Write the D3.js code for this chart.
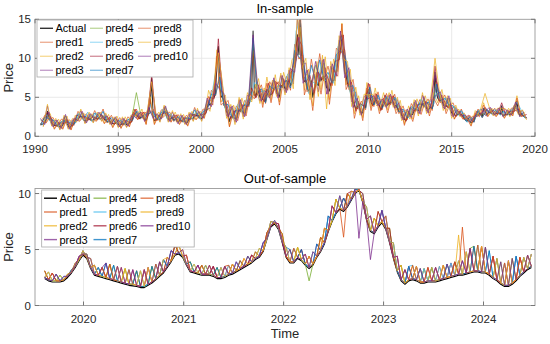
<!DOCTYPE html>
<html><head><meta charset="utf-8">
<script src="https://cdn.jsdelivr.net/npm/d3@7"></script>
<style>body{margin:0;background:#fff}text{font-family:Arial,"Liberation Sans",Helvetica,sans-serif;}</style>
</head><body><svg id="c" width="550" height="344"></svg>
<script>
// ---------- In-sample (monthly actual from May 1990; predictions quarterly, staggered) ----------
const inStart = new Date(1990, 4, 1);
const inActual = [
1.6,1.5,1.6,1.8,2.2,3.2,2.4,2.0,
1.7,1.5,1.4,1.4,1.4,1.3,1.2,1.3,1.4,1.8,2.1,1.7,
1.3,1.2,1.3,1.4,1.6,1.8,2.2,2.3,2.4,2.6,2.5,2.1,
2.0,2.0,2.5,2.2,2.2,2.0,2.1,2.4,2.4,2.2,2.4,2.2,
2.3,2.6,2.1,2.1,1.9,1.9,1.9,1.8,1.6,1.6,1.8,1.7,
1.5,1.5,1.5,1.6,1.6,1.6,1.5,1.6,1.7,1.8,2.1,2.6,
3.0,2.6,2.6,2.3,2.4,2.6,2.6,2.2,2.0,2.5,3.0,4.2,
7.4,2.6,2.0,2.1,2.2,2.2,2.2,2.5,2.9,3.1,3.2,2.4,
2.2,2.2,2.3,2.4,2.1,2.2,2.2,1.9,2.0,2.0,2.0,1.9,
1.9,1.8,1.8,2.2,2.3,2.3,2.3,2.8,2.6,2.7,2.5,2.3,
2.3,2.6,2.8,3.0,3.6,4.3,4.0,4.3,5.0,5.0,5.5,9.5,
11.5,6.5,5.0,5.2,4.2,3.7,3.1,3.0,1.9,2.5,2.6,2.4,
2.3,2.3,3.0,3.4,3.4,3.3,3.0,3.0,3.6,4.0,4.1,4.6,
5.2,13.5,5.8,5.1,5.8,5.8,5.0,5.0,4.7,4.6,4.5,6.0,
5.8,5.4,5.3,5.6,6.2,6.3,5.9,5.4,5.0,6.5,6.5,6.6,
6.1,6.1,6.9,7.2,6.5,7.0,7.5,9.0,11.5,13.0,10.5,15.3,
10.0,7.6,7.0,7.2,6.3,5.8,6.1,7.1,5.0,5.8,7.4,6.8,
6.5,7.8,7.1,7.6,7.7,7.4,6.2,6.2,5.8,6.8,7.1,7.1,
7.9,8.5,9.4,10.1,11.3,13.0,11.3,8.3,7.7,6.8,6.6,5.8,
5.2,4.5,4.0,3.5,3.8,3.8,3.4,3.1,3.0,4.0,3.7,5.5,
6.0,5.3,4.3,4.0,4.1,4.8,4.6,4.3,3.9,3.4,3.7,4.2,
4.5,4.1,4.0,4.2,4.3,4.5,4.4,4.0,3.9,3.6,3.2,3.2,
2.7,2.5,2.2,2.0,2.4,2.5,2.9,2.8,2.8,3.3,3.5,3.4,
3.3,3.3,3.8,4.2,4.0,3.8,3.6,3.4,3.6,3.7,3.6,4.2,
8.2,5.7,4.9,4.6,4.6,4.6,4.0,3.9,3.9,3.8,4.1,3.5,
3.0,2.9,2.8,2.6,2.8,2.8,2.8,2.8,2.6,2.3,2.1,1.9,
2.3,2.0,1.7,1.9,1.9,2.6,2.8,2.8,2.9,2.9,2.5,3.6,
3.3,2.8,2.9,3.1,3.1,2.9,2.9,2.9,2.9,2.9,3.0,2.8,
3.9,2.7,2.7,2.8,2.8,2.9,2.8,2.9,3.0,3.3,3.8,4.5,
3.1,2.7,2.9,2.7,2.6,2.4,2.4];

const inPred1 = [
1.4,2.7,2.2,2.4, 1.2,2.2,1.9,2.1, 1.4,3.2,2.3,2.9, 2.0,3.3,2.2,3.5, 1.7,2.7,1.6,2.4,
1.4,2.5,1.9,3.5, 2.2,3.1,2.8,3.5, 2.0,3.4,3.0,3.1, 1.9,2.8,1.8,2.7, 2.1,3.7,2.3,3.5,
3.3,5.9,5.2,8.1, 3.9,4.6,2.3,3.9, 3.1,4.6,3.8,11.0, 5.5,6.6,4.2,7.0, 5.9,7.0,6.2,7.7,
5.9,11.8,9.9,10.4, 5.7,9.9,6.8,10.6, 7.1,9.0,6.5,11.3, 10.7,11.1,6.0,7.3, 3.5,4.5,3.4,6.7,
3.8,5.7,3.4,5.5, 4.0,5.4,2.9,3.9, 2.1,4.2,3.2,4.7, 3.7,4.8,3.3,7.1, 4.3,5.3,3.8,4.3,
2.7,3.5,2.0,2.7, 1.8,3.5,2.4,3.5, 3.0,3.6,2.9,3.4, 2.7,3.6,3.7,3.4, 2.5];
const inPred2 = [
2.4,1.8,2.9,1.0, 2.2,1.0,2.6,0.9, 2.7,2.0,3.0,2.1, 2.9,2.0,3.1,1.7, 2.8,1.2,2.6,1.1,
2.5,1.3,3.5,2.2, 3.5,1.6,5.1,1.6, 3.1,2.5,3.3,1.9, 3.1,1.6,2.8,1.4, 3.2,2.2,3.2,2.4,
5.9,4.4,11.1,4.4, 5.3,1.3,4.0,2.4, 4.9,3.0,6.2,5.2, 7.4,4.1,7.6,4.7, 7.9,4.4,8.2,6.3,
9.8,10.4,14.0,5.9, 8.6,3.9,9.6,6.0, 10.2,4.7,9.9,8.3, 14.5,6.6,8.6,2.9, 5.2,2.4,6.9,3.7,
6.2,3.3,5.6,3.4, 5.9,3.3,4.6,1.6, 3.9,2.2,4.8,3.2, 5.2,3.0,5.6,4.3, 6.0,3.3,4.9,2.2,
3.5,2.3,2.6,1.4, 3.3,2.6,4.3,2.6, 3.6,2.6,3.5,2.4, 3.6,2.7,5.2,2.6, 3.1];
const inPred3 = [
1.3,3.9,1.4,2.1, 0.9,2.5,1.0,2.1, 1.9,3.3,1.7,2.9, 1.8,2.9,2.0,2.8, 1.6,2.3,1.2,2.3,
1.2,2.5,2.7,3.0, 2.3,3.2,7.0,2.8, 1.9,3.8,1.9,3.1, 1.9,2.7,1.6,2.9, 2.0,3.4,2.0,3.7,
3.5,6.3,10.8,6.5, 2.6,3.8,1.8,4.7, 2.5,5.3,4.7,6.4, 4.5,5.9,5.3,6.9, 5.4,7.8,5.6,8.5,
6.7,15.2,9.2,9.4, 5.3,8.0,5.7,9.8, 5.4,9.0,7.1,12.3, 10.5,9.0,4.4,5.7, 3.0,5.1,5.6,5.1,
4.2,4.5,4.1,5.3, 4.0,4.7,2.3,3.1, 2.5,4.4,2.9,5.3, 3.2,4.8,7.8,5.7, 3.6,4.9,2.6,3.7,
2.6,2.9,2.1,2.5, 2.6,3.5,3.1,3.7, 2.7,3.5,3.7,3.4, 2.6,3.9,2.9,3.3, 2.3];
const inPred4 = [
2.1,1.7,2.9,1.4, 1.9,1.2,2.6,1.1, 2.1,2.2,3.0,1.9, 2.7,2.3,2.9,2.5, 2.4,1.7,2.3,1.4,
2.1,1.5,2.6,5.6, 2.9,2.1,3.5,2.5, 2.7,2.4,3.7,2.1, 2.6,1.8,2.5,1.7, 2.8,2.7,3.0,2.5,
4.6,4.1,6.5,6.3, 5.2,2.8,3.6,2.1, 4.4,2.8,5.1,12.0, 6.8,4.8,5.5,5.2, 7.2,5.2,7.5,5.9,
8.2,8.7,12.2,7.3, 8.0,6.8,9.1,7.5, 9.4,5.9,8.8,8.2, 12.8,8.0,8.3,4.2, 4.6,2.9,4.5,5.0,
4.9,4.1,4.5,3.9, 5.1,3.8,4.0,2.4, 3.2,2.7,4.3,3.2, 4.8,3.3,4.4,5.5, 5.4,3.8,4.9,2.8,
3.2,2.7,2.5,1.9, 2.3,2.7,2.9,2.7, 3.5,2.8,3.4,2.6, 3.2,2.8,4.2,2.6, 3.0];
const inPred5 = [
1.4,2.8,1.9,2.0, 1.2,2.0,1.6,1.9, 1.7,3.0,2.0,3.1, 1.9,3.0,2.1,2.7, 1.8,2.2,1.6,2.1,
1.5,2.3,2.5,3.2, 2.5,2.6,4.1,2.6, 2.1,3.5,2.3,2.9, 2.1,2.6,1.8,2.4, 2.2,3.2,2.2,3.4,
4.1,6.1,9.3,6.1, 3.5,3.0,2.2,4.1, 3.1,4.7,4.4,6.9, 5.6,5.8,5.8,6.4, 6.1,6.1,6.4,8.0,
6.7,13.5,15.0,9.0, 5.5,7.0,6.5,9.1, 7.1,7.8,6.8,11.4, 12.7,9.7,5.5,6.0, 3.7,4.0,5.4,5.3,
4.7,4.9,4.1,5.0, 4.4,4.9,3.1,3.2, 2.4,3.8,3.3,4.8, 3.7,4.6,4.1,5.9, 4.5,4.9,3.4,3.8,
2.7,3.1,1.8,2.2, 2.5,3.4,3.5,3.4, 2.8,3.4,2.7,3.2, 2.8,3.5,4.4,3.4, 2.3];
const inPred6 = [
2.1,3.1,2.2,1.3, 1.7,1.7,1.8,1.3, 2.7,2.5,2.5,2.1, 2.6,2.1,2.8,2.0, 2.4,1.5,2.0,1.5,
2.0,1.7,3.5,2.2, 3.1,2.4,7.9,2.0, 2.7,3.0,2.7,2.3, 2.7,1.9,2.4,2.1, 2.8,2.6,2.8,2.9,
5.0,4.8,12.5,5.0, 4.1,2.3,3.3,3.2, 4.0,3.8,6.2,4.9, 6.0,4.4,6.8,5.4, 6.9,6.3,7.1,7.0,
9.2,12.7,11.7,6.9, 7.8,5.5,8.2,7.3, 7.9,6.5,9.6,9.8, 13.0,6.5,6.9,3.2, 4.2,3.9,6.8,3.9,
5.4,3.3,5.3,4.1, 5.2,3.5,3.5,1.9, 3.7,3.2,4.1,4.1, 4.4,3.6,9.0,4.5, 4.8,3.7,3.8,2.5,
3.2,2.2,2.7,1.8, 3.2,2.8,3.7,3.0, 3.3,2.8,4.3,2.7, 3.2,3.2,3.5,2.6, 2.8];
const inPred7 = [
1.5,2.4,2.3,2.1, 1.3,1.9,2.0,1.8, 1.5,2.9,2.4,2.6, 2.1,3.0,2.3,3.2, 1.8,2.4,1.7,2.1,
1.5,2.2,2.0,3.2, 2.3,2.8,2.9,3.2, 2.1,3.1,3.1,2.8, 2.0,2.5,1.9,2.4, 2.2,3.4,2.4,3.2,
3.4,5.4,5.3,7.6, 4.0,4.1,2.4,3.4, 3.2,4.1,3.9,12.6, 5.6,6.1,4.3,6.5, 6.0,6.5,6.3,7.2,
6.2,11.0,10.2,9.6, 6.0,9.1,7.1,9.8, 7.4,8.2,6.8,10.5, 11.0,10.3,6.3,6.5, 3.7,4.1,3.6,6.3,
4.0,5.3,3.6,5.1, 4.2,5.0,3.1,3.5, 2.3,3.8,3.4,4.3, 3.9,4.4,3.5,6.7, 4.5,4.9,4.0,3.9,
2.7,3.3,2.0,2.5, 1.8,3.3,2.4,3.3, 3.0,3.4,2.9,3.2, 2.7,3.4,3.7,3.2, 2.5];
const inPred8 = [
2.0,1.7,2.5,0.9, 1.8,0.9,2.2,0.8, 2.3,1.9,2.6,2.0, 2.5,1.9,2.7,1.6, 2.4,1.1,2.2,1.0,
2.1,1.2,3.1,2.1, 3.1,1.5,4.7,1.5, 2.7,2.4,2.9,1.8, 2.7,1.5,2.4,1.3, 2.8,2.1,2.8,2.3,
5.1,4.0,10.3,4.0, 4.5,1.2,3.2,2.0, 4.1,2.6,5.4,4.8, 6.6,3.7,6.8,4.3, 7.1,4.0,7.4,5.9,
8.4,9.8,16.0,5.3, 7.2,3.3,8.2,5.4, 8.8,4.1,8.5,7.7, 14.4,6.0,7.2,2.3, 4.5,2.0,6.2,3.3,
5.5,2.9,4.9,3.0, 5.2,2.9,3.9,1.4, 3.2,1.9,4.1,2.8, 4.5,2.6,4.9,3.9, 5.3,2.9,4.2,2.2,
3.2,2.2,2.3,1.3, 3.0,2.5,4.0,2.5, 3.3,2.5,3.2,2.3, 3.3,2.6,4.9,2.5, 2.8];
const inPred9 = [
1.2,4.1,1.3,2.3, 0.8,2.7,0.9,2.3, 1.8,3.5,1.6,3.1, 1.7,3.1,1.9,3.0, 1.5,2.5,1.1,2.5,
1.1,2.7,2.6,3.2, 2.2,3.4,7.0,3.0, 1.8,4.0,1.8,3.3, 1.8,2.9,1.5,3.1, 1.9,3.6,1.9,3.9,
3.2,6.6,10.7,6.8, 2.3,4.1,1.5,5.0, 2.2,5.6,4.4,6.7, 4.2,6.2,5.0,7.2, 5.1,8.1,5.3,8.8,
6.1,15.8,8.6,10.0, 4.7,8.6,5.1,10.4, 3.5,9.6,6.5,12.9, 9.9,9.6,3.8,6.3, 2.7,5.4,5.3,5.4,
3.9,4.8,3.8,5.6, 3.7,5.0,2.0,3.4, 2.2,4.7,2.6,5.6, 2.9,5.1,10.0,6.0, 3.3,5.2,2.3,4.0,
2.5,3.0,2.0,2.6, 2.5,3.6,5.5,3.8, 2.6,3.6,3.6,3.5, 2.5,4.0,2.8,3.4, 2.1];
const inPred10 = [
2.3,1.5,3.1,1.2, 2.1,1.0,2.8,0.9, 2.3,2.0,3.2,1.7, 2.9,2.1,3.1,2.3, 2.6,1.5,2.5,1.2,
2.3,1.3,2.8,2.3, 3.1,1.9,3.7,2.3, 2.9,2.2,3.9,1.9, 2.8,1.6,2.7,1.5, 3.0,2.5,3.2,2.3,
4.9,3.8,6.8,6.0, 5.5,2.5,3.9,1.8, 4.7,2.5,5.4,13.0, 7.1,4.5,5.8,4.9, 7.5,4.9,7.8,5.6,
8.7,8.2,12.7,6.8, 8.5,6.3,9.6,7.0, 9.9,5.4,9.3,7.7, 13.5,7.5,8.8,3.7, 4.9,2.7,4.8,4.9,
5.2,3.9,4.8,3.7, 5.4,3.6,4.3,2.1, 3.5,2.4,4.6,2.9, 5.1,3.0,4.7,5.3, 5.7,3.5,5.2,2.5,
3.4,2.6,2.7,1.8, 2.5,2.6,3.1,2.6, 3.7,2.7,3.6,2.5, 3.4,2.7,4.4,2.5, 3.1];

// ---------- Out-of-sample (bi-weekly from 12 Aug 2019) ----------
const outStart = new Date(2019, 7, 12);
const outActual = [
2.4,2.2,2.1,2.1,2.1,2.2,2.5,2.9,3.4,4.0,4.5,4.2,3.3,2.7,2.6,2.5,
2.4,2.3,2.2,2.1,2.0,1.9,1.8,1.75,1.7,1.6,1.6,1.8,2.0,2.3,2.6,2.9,
3.4,3.9,4.5,4.6,4.3,3.6,3.0,2.9,2.8,2.7,2.7,2.7,2.6,2.4,2.4,2.5,
2.7,2.8,3.0,3.2,3.4,3.6,3.8,4.1,4.3,4.8,5.9,7.0,7.3,6.8,5.6,4.3,
3.8,3.8,4.2,4.0,3.6,3.3,3.6,4.3,4.8,5.5,6.6,7.5,8.2,8.6,8.4,8.8,
9.4,10.0,10.3,9.2,7.6,6.6,6.4,7.0,7.4,6.8,5.6,4.2,3.0,2.2,1.9,2.2,
2.3,2.2,2.0,2.0,2.1,2.1,2.1,2.2,2.3,2.4,2.5,2.6,2.7,2.7,2.8,2.9,
3.0,3.0,2.9,2.9,2.7,2.4,2.2,1.9,1.7,1.7,1.9,2.2,2.6,2.9,3.2,3.4];

const outPred1 = [
3.1,2.3,2.2,2.8,2.2,2.3,2.6,3.2,3.5,4.1,4.9,4.3,3.4,2.8,3.4,2.6,
2.5,3.7,2.3,2.2,3.4,2.0,1.9,1.9,3.1,1.7,1.7,3.4,2.1,2.4,2.7,4.1,
3.5,4.0,5.4,4.7,4.4,4.5,3.1,3.0,2.9,3.6,2.8,2.8,3.5,2.5,2.5,2.6,
3.6,2.9,3.1,3.3,4.2,3.7,4.5,4.2,4.4,4.9,6.0,7.5,7.4,7.3,5.7,4.4,
3.9,5.1,4.3,4.1,3.7,4.4,3.7,4.4,6.1,5.6,6.7,7.6,9.5,8.7,9.6,8.9,
9.5,10.1,10.4,9.3,7.7,6.7,7.8,7.1,7.5,8.0,5.7,4.3,3.1,3.6,2.0,3.5,
2.4,2.3,2.1,3.3,2.2,2.2,2.2,3.5,2.4,2.5,3.8,2.7,2.8,2.8,4.8,3.0,
5.3,3.1,5.3,3.0,2.8,2.5,2.3,2.0,3.8,1.8,2.0,2.3,4.3,3.0,3.3,4.6];
const outPred2 = [
2.5,3.0,2.2,2.2,2.7,2.3,2.6,3.0,3.8,4.1,4.6,4.6,3.4,2.8,2.7,3.4,
2.5,2.4,3.6,2.2,2.1,3.3,1.9,1.9,1.8,3.1,1.7,1.9,3.5,2.4,2.7,3.0,
4.3,4.0,4.6,4.7,5.0,3.7,3.9,3.0,2.9,2.8,2.8,3.6,2.7,3.4,2.5,2.6,
2.8,3.7,3.1,3.3,3.5,4.4,3.9,4.2,5.1,4.9,6.0,7.1,7.6,6.9,6.4,4.4,
3.9,3.9,5.2,4.1,3.7,3.4,4.8,4.4,4.9,6.9,6.7,7.6,8.3,9.8,8.5,10.0,
9.5,10.1,10.3,10.0,7.7,6.7,6.5,8.4,7.5,6.9,6.9,4.3,3.1,2.3,3.2,2.3,
3.6,2.3,3.3,2.1,2.2,2.2,2.2,2.3,3.6,2.5,2.6,2.7,6.3,2.8,2.9,5.1,
3.1,5.4,3.0,3.0,2.8,2.5,4.2,2.0,1.8,1.8,4.2,2.3,2.7,4.3,3.3,3.5];
const outPred3 = [
2.5,2.3,2.9,2.2,2.2,2.6,2.6,3.0,3.5,4.4,4.6,4.3,4.2,2.8,2.7,2.6,
3.8,2.4,2.3,2.2,3.4,2.0,3.2,1.9,1.8,1.7,1.7,3.4,2.1,3.7,2.7,3.0,
3.5,4.9,4.6,4.7,4.4,4.5,3.1,3.0,3.6,2.8,2.8,2.8,3.5,2.5,3.4,2.6,
2.8,2.9,3.9,3.3,3.5,3.7,4.5,4.2,4.4,5.6,6.0,7.1,7.4,7.3,5.7,5.2,
3.9,3.9,4.3,5.0,3.7,3.4,3.7,5.5,4.9,5.6,8.0,7.6,8.3,8.7,9.6,8.9,
10.2,10.1,10.4,9.3,7.7,4.1,6.5,7.1,8.5,6.9,5.7,4.3,4.4,2.3,2.0,3.5,
2.4,3.5,2.1,2.1,2.2,2.2,3.4,2.3,2.4,2.5,3.8,2.7,2.8,4.0,2.9,3.0,
3.1,3.1,3.0,5.2,2.8,4.4,2.3,2.0,1.8,4.0,2.0,4.4,2.7,3.0,3.3,4.6];
const outPred4 = [
3.1,2.3,2.2,2.2,2.7,2.3,2.8,3.0,3.5,4.1,4.6,4.6,3.4,3.6,2.7,2.6,
2.5,3.7,2.3,2.2,2.1,3.3,1.9,1.9,3.1,1.7,1.7,1.9,3.5,2.4,3.9,3.0,
3.5,4.0,5.4,4.7,4.4,3.7,3.9,3.0,2.9,3.6,2.8,2.8,2.7,3.4,2.5,3.5,
2.8,2.9,3.1,4.0,3.5,3.7,3.9,4.8,4.4,4.9,6.5,7.1,7.4,6.9,6.4,4.4,
5.0,3.9,5.2,4.1,3.7,2.2,3.7,4.4,6.1,5.6,6.7,7.6,9.5,8.7,8.5,10.0,
9.5,10.4,10.3,9.3,7.7,6.7,7.8,7.1,7.5,6.9,6.9,4.3,3.1,3.6,2.0,2.3,
2.4,2.3,2.1,3.3,2.2,3.4,2.2,2.3,2.4,3.7,2.6,3.9,2.8,2.8,2.9,5.1,
5.3,3.1,3.0,5.2,2.8,2.5,2.3,3.9,1.8,1.8,4.2,2.3,2.7,3.0,4.5,3.5];
const outPred5 = [
2.5,3.0,2.2,2.2,2.2,2.6,2.6,3.0,3.8,4.1,4.6,4.3,4.2,2.8,3.4,2.6,
2.5,2.4,3.6,2.2,2.1,2.0,3.2,1.9,1.8,3.1,1.7,1.9,2.1,3.7,2.7,4.1,
3.5,4.0,4.6,5.4,4.4,3.7,3.1,3.7,2.9,2.8,3.6,2.8,2.7,2.5,3.4,2.6,
3.6,2.9,3.9,3.3,3.5,3.7,3.9,4.2,5.1,4.9,6.0,7.1,7.6,6.9,5.7,5.2,
3.9,5.1,4.3,4.1,3.7,3.4,4.8,4.4,4.9,5.6,8.0,7.6,8.3,9.8,8.5,8.9,
9.5,10.1,10.3,10.0,7.7,8.0,6.5,7.1,7.5,8.0,5.7,5.6,3.1,2.3,2.0,3.5,
3.6,2.3,2.1,3.3,2.2,2.2,2.2,3.5,2.4,2.5,3.8,2.7,2.8,2.8,4.8,3.0,
3.1,5.4,3.0,3.0,4.9,2.5,2.3,2.0,3.8,1.8,2.0,4.4,2.7,3.0,3.3,4.6];
const outPred6 = [
2.5,2.3,2.9,2.2,2.2,2.3,2.8,3.0,3.5,4.4,4.6,4.3,3.4,3.6,2.7,3.4,
2.5,2.4,2.3,3.5,2.1,2.0,1.9,3.2,1.8,1.7,3.2,1.9,2.1,2.4,3.9,3.0,
4.3,4.0,5.4,4.7,4.4,3.7,3.1,3.0,3.6,2.8,2.8,2.8,3.5,2.5,2.5,3.5,
2.8,3.7,3.1,3.3,3.5,3.7,4.5,4.2,4.4,4.9,6.5,7.1,7.4,7.3,5.7,4.4,
3.9,3.9,4.3,5.0,3.7,4.4,3.7,4.4,4.9,6.9,6.7,8.9,8.3,8.7,8.5,10.0,
10.2,10.1,10.3,10.0,7.7,6.7,6.5,8.4,7.5,6.9,6.9,4.3,3.1,2.3,3.2,2.3,
2.4,3.5,2.1,2.1,3.4,2.2,2.2,2.3,3.6,2.5,2.6,3.9,2.8,2.8,2.9,5.1,
3.1,3.1,5.3,3.0,2.8,4.4,2.3,2.0,1.8,4.0,2.0,2.3,4.3,3.0,3.3,3.5];
const outPred7 = [
2.5,2.3,2.2,2.8,2.2,2.3,2.6,3.2,3.5,4.1,4.9,4.3,3.4,2.8,3.4,2.6,
3.8,2.4,3.6,2.2,2.1,2.0,1.9,1.9,3.1,1.7,1.7,1.9,3.5,2.4,2.7,4.1,
3.5,4.9,4.6,4.7,4.4,3.7,3.9,3.0,2.9,2.8,3.6,2.8,2.7,3.4,2.5,2.6,
2.8,2.9,3.1,4.0,3.5,4.4,3.9,4.2,4.4,5.6,6.0,7.5,7.4,6.9,5.7,5.2,
5.0,3.9,4.3,5.0,3.7,3.4,3.7,5.5,4.9,5.6,8.0,7.6,8.3,8.7,9.6,8.9,
9.5,10.4,10.3,9.3,8.8,6.7,6.5,7.1,8.5,6.9,5.7,5.6,3.1,2.3,2.0,3.5,
2.4,2.3,3.3,2.1,2.2,3.4,2.2,2.3,2.4,3.7,2.6,2.7,4.0,2.8,2.9,3.0,
5.3,3.1,3.0,3.0,4.9,2.5,4.2,2.0,1.8,1.8,2.0,4.4,2.7,4.3,3.3,3.5];
const outPred8 = [
3.1,2.3,2.9,2.2,2.2,2.3,2.6,3.0,3.8,4.1,4.6,4.3,4.2,2.8,2.7,3.4,
2.5,3.7,2.3,2.2,2.1,2.0,3.2,1.9,1.8,1.7,3.2,1.9,2.1,3.7,2.7,3.0,
3.5,4.0,4.6,5.4,4.4,4.5,3.1,3.0,2.9,3.6,2.8,3.6,2.7,2.5,2.5,3.5,
3.6,2.9,3.1,4.0,3.5,3.7,3.9,4.8,4.4,4.9,6.5,7.1,7.4,6.9,6.4,4.4,
3.9,5.1,4.3,4.1,4.6,3.4,3.7,4.4,6.1,5.6,6.7,8.9,8.3,8.7,6.1,10.0,
9.5,10.1,10.4,9.3,7.7,8.0,6.5,7.1,7.5,8.0,5.7,4.3,4.4,2.3,2.0,2.3,
3.6,2.3,2.1,2.1,3.4,2.2,3.4,2.3,2.4,2.5,2.6,3.9,2.8,7.0,2.9,3.0,
3.1,5.4,3.0,3.0,2.8,4.4,2.3,2.0,3.8,1.8,2.0,2.3,4.3,3.0,4.5,3.5];
const outPred9 = [
2.5,3.0,2.2,2.2,2.2,2.3,2.8,3.0,3.5,4.1,4.9,4.3,3.4,3.6,2.7,2.6,
2.5,2.4,2.3,3.5,2.1,3.3,1.9,1.9,1.8,3.1,1.7,3.4,2.1,2.4,2.7,4.1,
4.3,4.0,4.6,5.4,4.4,3.7,3.1,3.7,2.9,2.8,3.6,2.8,2.7,2.5,3.4,2.6,
2.8,3.7,3.1,3.3,4.2,3.7,3.9,4.2,5.1,4.9,6.0,7.5,7.4,6.9,5.7,5.2,
3.9,3.9,5.2,4.1,3.7,4.4,3.7,4.4,4.9,6.9,6.7,7.6,9.5,8.7,8.5,8.9,
10.2,10.1,10.3,9.3,8.8,6.7,7.8,7.1,7.5,6.9,5.7,5.6,3.1,3.6,2.0,2.3,
2.4,3.5,2.1,2.1,2.2,3.4,2.2,2.3,3.6,2.5,2.6,2.7,4.0,2.8,4.8,3.0,
3.1,3.1,5.3,3.0,2.8,2.5,4.2,2.0,1.8,4.0,2.0,2.3,2.7,4.3,3.3,4.6];
const outPred10 = [
2.5,2.3,2.2,2.8,2.2,2.6,2.6,3.0,3.5,4.4,4.6,4.6,3.4,2.8,2.7,3.4,
3.8,2.4,2.3,3.5,2.1,2.0,1.9,3.2,1.8,1.7,3.2,1.9,2.1,2.4,3.9,3.0,
3.5,4.9,4.6,4.7,5.0,3.7,3.1,3.0,3.6,2.8,2.8,3.6,2.7,2.5,2.5,3.5,
2.8,2.9,3.9,3.3,3.5,4.4,3.9,4.2,4.4,5.6,6.0,7.1,7.6,6.9,5.7,4.4,
5.0,3.9,4.3,4.1,4.6,3.4,4.8,4.4,4.9,5.6,6.7,8.9,8.3,9.8,8.5,8.9,
9.5,10.4,6.0,9.3,7.7,8.0,6.5,7.1,8.5,6.9,5.7,4.3,4.4,2.3,3.2,2.3,
2.4,2.3,3.3,2.1,2.2,2.2,3.4,2.3,2.4,3.7,2.6,2.7,2.8,4.0,2.9,5.1,
3.1,3.1,3.0,5.2,2.8,2.5,2.3,3.9,1.8,1.8,4.2,2.3,2.7,3.0,4.5,3.5];

// ---------- Labels / ticks / colours ----------
const seriesNames = ["Actual","pred1","pred2","pred3","pred4","pred5","pred6","pred7","pred8","pred9","pred10"];
const seriesColors = ["#000000","#D95319","#EDB120","#7E2F8E","#77AC30","#4DBEEE","#A2142F","#0072BD","#D95319","#EDB120","#7E2F8E"];
const inTickYears = [1990,1995,2000,2005,2010,2015,2020];
const inTickY = [0,5,10,15];
const outTickYears = [2020,2021,2022,2023,2024];
const outTickY = [0,5,10];

const inPreds = [inPred1,inPred2,inPred3,inPred4,inPred5,inPred6,inPred7,inPred8,inPred9,inPred10];
const outPreds = [outPred1,outPred2,outPred3,outPred4,outPred5,outPred6,outPred7,outPred8,outPred9,outPred10];

const svg = d3.select("#c");
const L = 35, R = 535;

function panel(o) {
  const g = svg.append("g");
  const x = o.x, y = o.y;
  const top = y.range()[1], bot = y.range()[0];
  const cid = "clip" + o.id;
  svg.append("defs").append("clipPath").attr("id", cid)
    .append("rect").attr("x", L).attr("y", top).attr("width", R - L).attr("height", bot - top);
  g.append("rect").attr("x", L).attr("y", top).attr("width", R - L).attr("height", bot - top).attr("fill", "#fff");
  o.xticks.forEach(d => { const px = x(d); if (px > L + 0.5 && px < R - 0.5)
    g.append("line").attr("x1", px).attr("x2", px).attr("y1", top).attr("y2", bot).attr("stroke", "#e4e4e4").attr("stroke-width", 0.8); });
  o.yticks.forEach(d => { const py = y(d); if (py > top + 0.5 && py < bot - 0.5)
    g.append("line").attr("x1", L).attr("x2", R).attr("y1", py).attr("y2", py).attr("stroke", "#e4e4e4").attr("stroke-width", 0.8); });
  const lg = g.append("g").attr("clip-path", `url(#${cid})`);
  const line = d3.line().x(d => x(d[0])).y(d => y(d[1]));
  o.series.forEach((s, i) => {
    lg.append("path").datum(s).attr("d", line).attr("fill", "none")
      .attr("stroke", seriesColors[i]).attr("stroke-width", i === 0 ? 1.1 : 1)
      .attr("stroke-opacity", i === 0 ? o.actualAlpha : o.alpha).attr("stroke-linejoin", "round");
  });
  g.append("rect").attr("x", L).attr("y", top).attr("width", R - L).attr("height", bot - top)
    .attr("fill", "none").attr("stroke", "#9a9a9a").attr("stroke-width", 0.9);
  o.xticks.forEach(d => {
    const px = x(d);
    g.append("line").attr("x1", px).attr("x2", px).attr("y1", bot).attr("y2", bot - 4).attr("stroke", "#777");
    g.append("line").attr("x1", px).attr("x2", px).attr("y1", top).attr("y2", top + 4).attr("stroke", "#777");
    g.append("text").attr("x", px).attr("y", bot + 17).attr("text-anchor", "middle")
      .attr("font-size", 11.5).attr("fill", "#262626").text(d3.timeFormat("%Y")(d));
  });
  o.yticks.forEach(d => {
    const py = y(d);
    g.append("line").attr("x1", L).attr("x2", L + 4).attr("y1", py).attr("y2", py).attr("stroke", "#777");
    g.append("line").attr("x1", R).attr("x2", R - 4).attr("y1", py).attr("y2", py).attr("stroke", "#777");
    g.append("text").attr("x", 31).attr("y", py + 4).attr("text-anchor", "end")
      .attr("font-size", 11.5).attr("fill", "#262626").text(d);
  });
  g.append("text").attr("x", (L + R) / 2).attr("y", top - 6).attr("text-anchor", "middle")
    .attr("font-size", 13).attr("fill", "#000").text(o.title);
  g.append("text").attr("transform", `translate(13,${(top + bot) / 2}) rotate(-90)`).attr("text-anchor", "middle")
    .attr("font-size", 13).attr("fill", "#262626").text("Price");
  const lgd = g.append("g");
  const b = o.legend;
  lgd.append("rect").attr("x", b.x).attr("y", b.y).attr("width", b.w).attr("height", b.h)
    .attr("fill", "#fff").attr("stroke", "#a8a8a8").attr("stroke-width", 0.8);
  seriesNames.forEach((n, i) => {
    const col = i < 4 ? 0 : (i < 8 ? 1 : 2);
    const row = i < 4 ? i : (i < 8 ? i - 4 : i - 8);
    const lx = b.cols[col], ly = b.y + b.row0 + row * b.dy;
    lgd.append("line").attr("x1", lx).attr("x2", lx + 13).attr("y1", ly).attr("y2", ly)
      .attr("stroke", seriesColors[i]).attr("stroke-width", 1.4)
      .attr("stroke-opacity", i === 0 ? o.actualAlpha : o.legendAlpha);
    lgd.append("text").attr("x", lx + 15.5).attr("y", ly + 4).attr("font-size", 11).attr("fill", "#000").text(n);
  });
}

const inSeries = [inActual.map((v, i) => [d3.timeMonth.offset(inStart, i), v])]
  .concat(inPreds.map((arr, k) => arr.map((v, j) => [d3.timeMonth.offset(inStart, (k % 3) + 3 * j), v])));
const outSeries = [outActual.map((v, i) => [d3.timeDay.offset(outStart, 14 * i), v])]
  .concat(outPreds.map(arr => arr.map((v, j) => [d3.timeDay.offset(outStart, 14 * j), v])));

panel({
  id: "in",
  x: d3.scaleTime().domain([new Date(1990,0,1), new Date(2020,0,1)]).range([L, R]),
  y: d3.scaleLinear().domain([0, 15]).range([136.3, 19.3]),
  xticks: inTickYears.map(yv => new Date(yv,0,1)),
  yticks: inTickY,
  series: inSeries, alpha: 0.7, legendAlpha: 0.45, actualAlpha: 0.8,
  title: "In-sample",
  legend: {x: 37, y: 20, w: 156, h: 57, row0: 8.3, dy: 14, cols: [40, 90, 138]}
});
panel({
  id: "out",
  x: d3.scaleTime().domain([new Date(2020,0,1), new Date(2024,0,1)]).range([83.5, 483.5]),
  y: d3.scaleLinear().domain([0, 10.45]).range([305.5, 188.5]),
  xticks: outTickYears.map(yv => new Date(yv,0,1)),
  yticks: outTickY,
  series: outSeries, alpha: 0.8, legendAlpha: 0.75, actualAlpha: 1,
  title: "Out-of-sample",
  legend: {x: 41.7, y: 190, w: 152.5, h: 57, row0: 8.2, dy: 13.8, cols: [44, 93.5, 140.5]}
});
svg.append("text").attr("x", (L + R) / 2).attr("y", 338).attr("text-anchor", "middle")
  .attr("font-size", 13).attr("fill", "#262626").text("Time");
</script></body></html>
